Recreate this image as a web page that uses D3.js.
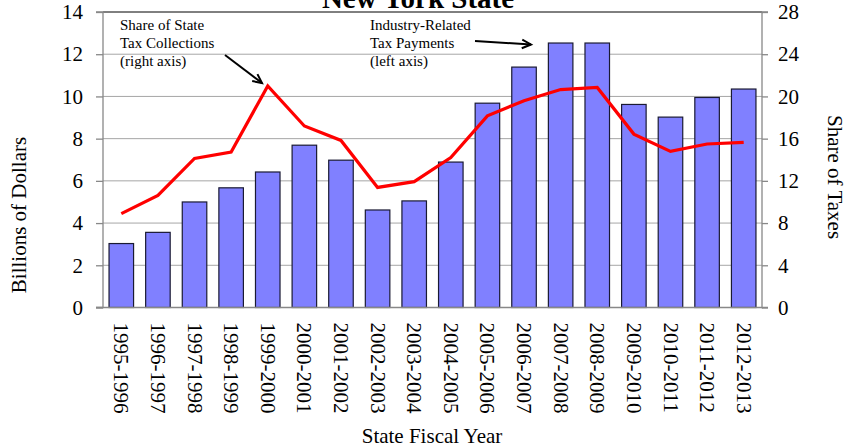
<!DOCTYPE html>
<html><head><meta charset="utf-8">
<script src="https://cdn.jsdelivr.net/npm/d3@7"></script>
<style>body{margin:0;background:#fff}svg{display:block}text{font-family:"Liberation Serif","Times New Roman",serif;fill:#000}</style>
</head><body><svg id="c" width="848" height="447"></svg>
<script>
const categories = ["1995-1996","1996-1997","1997-1998","1998-1999","1999-2000","2000-2001","2001-2002","2002-2003","2003-2004","2004-2005","2005-2006","2006-2007","2007-2008","2008-2009","2009-2010","2010-2011","2011-2012","2012-2013"];
const taxPayments = [3.03,3.56,5.0,5.67,6.42,7.69,6.98,4.62,5.05,6.89,9.68,11.39,12.53,12.53,9.62,9.02,9.95,10.35];
const taxShare = [8.9,10.62,14.12,14.73,21.0,17.2,15.83,11.38,11.92,14.2,18.16,19.6,20.65,20.85,16.43,14.79,15.49,15.64];
const leftTicks = [0,2,4,6,8,10,12,14];
const rightTicks = [0,4,8,12,16,20,24,28];

const svg = d3.select("#c");
const L = 103, R = 762, T = 12, B = 307.5;
const x = d3.scaleBand().domain(categories).range([L, R]).paddingInner(0.33).paddingOuter(0.165);
const yL = d3.scaleLinear().domain([0,14]).range([B, T]);
const yR = d3.scaleLinear().domain([0,28]).range([B, T]);

// gridlines
svg.append("g").selectAll("line").data(leftTicks.filter(d => d > 0 && d < 14)).join("line")
  .attr("x1", L).attr("x2", R).attr("y1", d => yL(d)).attr("y2", d => yL(d))
  .attr("stroke", "#a6a6a6").attr("stroke-width", 1);
// top border
svg.append("line").attr("x1", L).attr("x2", R).attr("y1", yL(14)).attr("y2", yL(14)).attr("stroke", "#000").attr("stroke-width", 1);

// bars
svg.append("g").selectAll("rect").data(categories).join("rect")
  .attr("x", d => x(d)).attr("width", x.bandwidth())
  .attr("y", (d, i) => yL(taxPayments[i])).attr("height", (d, i) => B - yL(taxPayments[i]))
  .attr("fill", "#8080ff").attr("stroke", "#1a1a33").attr("stroke-width", 1.2);

// axes
const axL = d3.axisLeft(yL).tickValues(leftTicks).tickSize(7).tickPadding(13).tickFormat(d3.format("d"));
const gL = svg.append("g").attr("transform", `translate(${L},0)`).call(axL);
const axR = d3.axisRight(yR).tickValues(rightTicks).tickSize(6).tickPadding(10).tickFormat(d3.format("d"));
const gR = svg.append("g").attr("transform", `translate(${R},0)`).call(axR);
const axB = d3.axisBottom(x).tickSize(0).tickPadding(0);
const gB = svg.append("g").attr("transform", `translate(0,${B})`).call(axB);
[gL, gR, gB].forEach(g => {
  g.attr("font-family", "Liberation Serif").attr("font-size", 21);
  g.selectAll(".domain").attr("stroke", "#888").attr("stroke-width", 1.3);
  g.selectAll(".tick line").attr("stroke", "#888").attr("stroke-width", 1.3);
  g.selectAll("text").style("font-family", "'Liberation Serif', serif").style("font-size", "21px").attr("fill", "#000");
});
gL.select(".domain").attr("d", `M-7,${T}H0V${B}H-7`);
gR.select(".domain").attr("d", `M6,${T}H0V${B}H6`);
gB.select(".domain").attr("d", `M${L-7},0H${R}`);
gB.selectAll(".tick text").attr("transform", "rotate(90)").attr("text-anchor", "start")
  .attr("x", 15).attr("y", 0).attr("dy", "0.33em");

// line
const line = d3.line().x((d, i) => x(categories[i]) + x.bandwidth() / 2).y(d => yR(d));
svg.append("path").datum(taxShare).attr("d", line).attr("fill", "none")
  .attr("stroke", "#ff0000").attr("stroke-width", 3.2).attr("stroke-linejoin", "miter");

// axis titles
svg.append("text").attr("transform", "translate(26,215) rotate(-90)").attr("text-anchor", "middle")
  .attr("font-size", 21).text("Billions of Dollars");
svg.append("text").attr("transform", "translate(828,177) rotate(90)").attr("text-anchor", "middle")
  .attr("font-size", 21).text("Share of Taxes");
svg.append("text").attr("x", 432).attr("y", 443).attr("text-anchor", "middle")
  .attr("font-size", 21).text("State Fiscal Year");

// title
svg.append("text").attr("x", 418).attr("y", 8).attr("text-anchor", "middle")
  .attr("font-size", 29).attr("font-weight", "bold").text("New York State");

// annotations
function note(lines, x0, y0) {
  const t = svg.append("text").attr("font-size", 15);
  lines.forEach((s, i) => t.append("tspan").attr("x", x0).attr("y", y0 + i * 18).text(s));
}
note(["Share of State", "Tax Collections", "(right axis)"], 120, 30);
note(["Industry-Related", "Tax Payments", "(left axis)"], 370, 30);
function arrow(x1, y1, x2, y2) {
  const a = Math.atan2(y2 - y1, x2 - x1), h = 10, w = 0.45;
  svg.append("path").attr("d", `M${x1},${y1}L${x2},${y2}`).attr("stroke", "#000").attr("stroke-width", 2).attr("fill", "none");
  svg.append("path").attr("d", `M${x2 - h * Math.cos(a - w)},${y2 - h * Math.sin(a - w)}L${x2},${y2}L${x2 - h * Math.cos(a + w)},${y2 - h * Math.sin(a + w)}`)
    .attr("stroke", "#000").attr("stroke-width", 2).attr("fill", "none");
}
arrow(225, 55, 262, 83);
arrow(475, 41, 531, 44.5);
</script></body></html>
